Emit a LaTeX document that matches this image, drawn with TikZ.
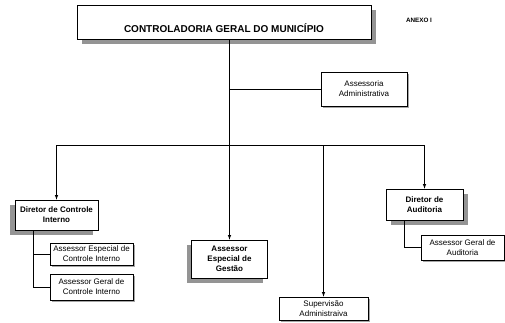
\documentclass[tikz,border=0pt]{standalone}
\usepackage{fontspec}
\setmainfont{Liberation Sans}
\usepackage{tikz}
\usetikzlibrary{shadows}

\begin{document}
\begin{tikzpicture}[x=1pt,y=-1pt]
                \tikzstyle{box}=[rectangle, draw=black, fill=white, line width=0.6pt, inner sep=1pt, align=center, font=\fontsize{8}{10}\selectfont]
                \tikzstyle{chief}=[box, font=\fontsize{8}{10}\selectfont\bfseries]
                \tikzstyle{rshadow}=[drop shadow={shadow xshift=5pt, shadow yshift=-5pt, fill=black!42, opacity=1}]
                \tikzstyle{lshadow}=[drop shadow={shadow xshift=-5pt, shadow yshift=-5pt, fill=black!42, opacity=1}]
                \tikzstyle{sshadow}=[drop shadow={shadow xshift=1.5pt, shadow yshift=-1.5pt, fill=black!35, opacity=1}]
                \tikzstyle{edge} = [draw, line width=0.6pt, -]
                \tikzstyle{arrow} = [draw, line width=0.6pt, -latex]

                \useasboundingbox (0,0) rectangle (505,322);

                \node[box,rshadow,minimum width=294pt,minimum height=34pt,
                  label={[font=\fontsize{10}{12}\selectfont\bfseries,yshift=-6pt]center:CONTROLADORIA GERAL DO MUNICÍPIO}] (cgm) at (224,22) {};
                \node[font=\fontsize{6.3}{8}\selectfont\bfseries] (anexo) at (419,20) {ANEXO I};

                \node[box,sshadow,minimum width=86pt,minimum height=34pt] (assadm) at (364,89) {Assessoria\\Administrativa};

                \node[chief,lshadow,minimum width=83pt,minimum height=30pt] (dci) at (56.5,215) {Diretor de Controle\\Interno};
                \node[box,sshadow,minimum width=83pt,minimum height=22pt] (aeci) at (91.5,254) {Assessor Especial de\\Controle Interno};
                \node[box,sshadow,minimum width=83pt,minimum height=26pt] (agci) at (91.5,287) {Assessor Geral de\\Controle Interno};

                \node[chief,lshadow,minimum width=76pt,minimum height=38pt] (gestao) at (229.5,259) {Assessor\\Especial de\\Gestão};

                \node[box,sshadow,minimum width=89pt,minimum height=23pt] (sup) at (323.5,308.5) {Supervisão\\Administraiva};

                \node[chief,rshadow,minimum width=77pt,minimum height=31pt] (da) at (424.5,204.5) {Diretor de\\Auditoria};
                \node[box,sshadow,minimum width=83pt,minimum height=25pt] (aga) at (462.5,247.5) {Assessor Geral de\\Auditoria};

                \coordinate (bus) at (230,145);

                \path[arrow] (gestao.north |- cgm.south) -- (gestao.north);
                \path[edge] (assadm.west -| gestao.north) -- (assadm.west);
                \path[edge] (dci.north |- bus) -- (da.north |- bus);

                \foreach \dest in {dci, sup, da}
                \path[arrow] (\dest.north |- bus) -- (\dest.north);

                \foreach \dest in {aeci, agci}
                \path[edge] ([xshift=-23pt]dci.south) |- (\dest.west);
                \path[edge] ([xshift=-20pt]da.south) |- (aga.west);
            \end{tikzpicture}
\end{document}
